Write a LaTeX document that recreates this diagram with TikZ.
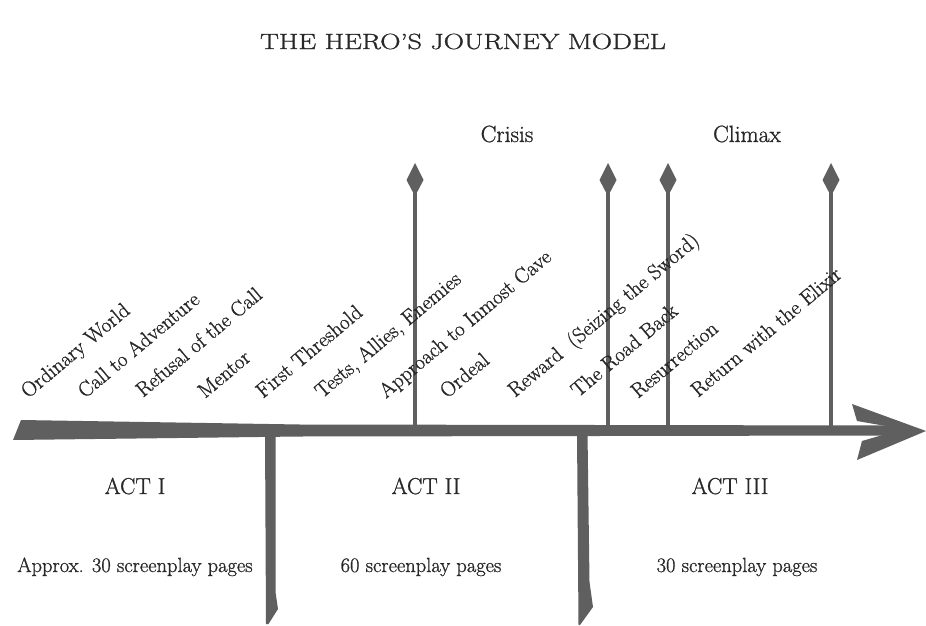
\documentclass[tikz,border=0pt]{standalone}
\usepackage{fontspec}
\setmainfont{Latin Modern Roman}[FakeBold=1.0]
\definecolor{ink}{RGB}{40,40,40}
\definecolor{barcol}{RGB}{95,95,95}
\tikzset{
  txt/.style={inner sep=0pt, text=ink, anchor=base},
  titletxt/.style={txt, font=\fontsize{22}{26}\selectfont},
  peaktxt/.style={txt, font=\fontsize{23.5}{28}\selectfont},
  acttxt/.style={txt, font=\fontsize{23}{28}\selectfont},
  pagetxt/.style={txt, font=\fontsize{20.5}{25}\selectfont},
  stagetxt/.style={inner sep=0pt, text=ink, anchor=base west, rotate=40, font=\fontsize{21}{25}\selectfont},
  shapefill/.style={fill=barcol, draw=none},
  spear/.pic={
    \fill[shapefill] (0,-265) -- (8.5,-248) -- (2.2,-236) -- (-2.2,-236) -- (-8.5,-248) -- cycle;
    \fill[shapefill] (-2.2,-238) rectangle (2.2,-2);
  }
}
\begin{document}
\begin{tikzpicture}[x=1pt,y=-1pt]
\useasboundingbox (0,0) rectangle (926,626);
\fill[white] (0,0) rectangle (926,626);

% title and peaks
\node[titletxt] (title) at (463,49) {\scalebox{1.28}[1]{THE HERO’S JOURNEY MODEL}};
\node[peaktxt] (crisis) at (507,142) {Crisis};
\node[peaktxt] (climax) at (747,142) {Climax};

% spear markers
\coordinate (p1) at (415,428);
\coordinate (p2) at (608,428);
\coordinate (p3) at (668,428);
\coordinate (p4) at (831,428);
\foreach \p in {p1,p2,p3,p4} \pic at (\p) {spear};

% act dividers
\fill[shapefill] (265,432) -- (275.5,432) -- (275.5,592) -- (278,609) -- (268.5,624) -- (266,624) -- cycle;
\fill[shapefill] (577,432) -- (587.5,432) -- (589.5,582) -- (593,607) -- (580,625) -- (578.5,625) -- cycle;

% main axis
\fill[shapefill] (13,440) -- (21,420) -- (300,424.5) -- (895,425.5) -- (895,435.5) -- (300,436.5) -- cycle;
\fill[shapefill] (852,404) -- (926,431) -- (857,460) -- (862,441) -- (886,434) -- (886,426) -- (857,421) -- cycle;

% stage labels
\node[stagetxt] (s1)  at (28,399)  {Ordinary World};
\node[stagetxt] (s2)  at (85,399)  {Call to Adventure};
\node[stagetxt] (s3)  at (143,398) {Refusal of the Call};
\node[stagetxt] (s4)  at (205,399) {Mentor};
\node[stagetxt] (s5)  at (263,399) {First Threshold};
\node[stagetxt] (s6)  at (322,399) {Tests, Allies, Enemies};
\node[stagetxt] (s7)  at (386,399) {Approach to Inmost Cave};
\node[stagetxt] (s8)  at (447,399) {Ordeal};
\node[stagetxt] (s9)  at (515,398) {Reward\ \ (Seizing the Sword)};
\node[stagetxt] (s10) at (578,398) {The Road Back};
\node[stagetxt] (s11) at (638,399) {Resurrection};
\node[stagetxt] (s12) at (698,398) {Return with the Elixir};

% acts
\node[acttxt] (a1) at (135,494) {ACT I};
\node[acttxt] (a2) at (426,494) {ACT II};
\node[acttxt] (a3) at (730,494) {ACT III};
\node[pagetxt] (g1) at (135,572) {Approx. 30 screenplay pages};
\node[pagetxt] (g2) at (421,572) {60 screenplay pages};
\node[pagetxt] (g3) at (737,572) {30 screenplay pages};
\end{tikzpicture}
\end{document}
